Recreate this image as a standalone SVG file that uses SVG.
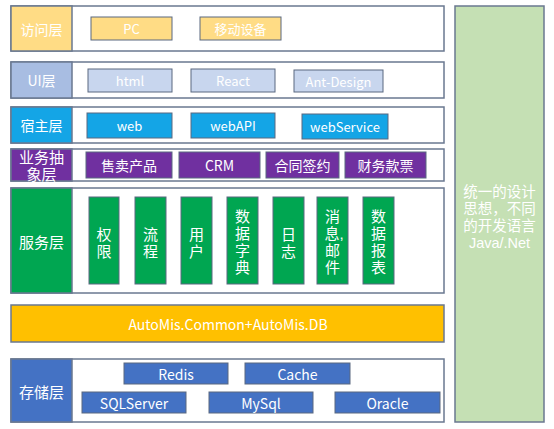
<svg xmlns="http://www.w3.org/2000/svg" width="554" height="429" viewBox="0 0 554 429">
<style>
text{font-family:"Noto Sans CJK SC","Noto Sans",sans-serif;fill:#fff;text-anchor:middle;dominant-baseline:central}
text.ml{font-family:"Liberation Sans","Noto Sans CJK SC",sans-serif}
.outer{fill:#fff;stroke:#6a7890;stroke-width:1.5}
.lbl{stroke:#6a7890;stroke-width:1.5}
.in{stroke:#5a6880;stroke-width:1}
.t14{font-size:14px}
.t13{font-size:13px}
.v{font-size:15px}
.yel{fill:#ffdc85}
.lb{fill:#c8d6ee}
.lbl2{fill:#a8bde2}
.sky{fill:#14a5e6}
.pur{fill:#7030a0}
.grn{fill:#00a651}
.blu{fill:#4472c4}
</style>
<rect width="554" height="429" fill="#fff"/>
<g id="side">
<rect x="455" y="6" width="89" height="416" fill="#c5e0b4" stroke="#6a7890" stroke-width="1.5"/>
<text class="ml" font-size="14.5" y="192"><tspan x="499.5">统一的设计</tspan><tspan x="499.5" dy="17">思想，不同</tspan><tspan x="499.5" dy="17">的开发语言</tspan><tspan x="499.5" dy="16.5">Java/.Net</tspan></text>
</g>
<g id="access">
<rect class="outer" x="11" y="6" width="433" height="45"/>
<rect class="lbl yel" x="11" y="6" width="61" height="45"/>
<text class="t14" x="41.5" y="29">访问层</text>
<rect class="in yel" x="91" y="17" width="81" height="23"/>
<text class="t13" x="131.5" y="28.5">PC</text>
<rect class="in yel" x="200" y="17" width="81" height="23"/>
<text class="t13" x="240.5" y="28.5">移动设备</text>
</g>
<g id="ui">
<rect class="outer" x="11" y="62" width="433" height="36"/>
<rect class="lbl lbl2" x="11" y="62" width="61" height="36"/>
<text class="t14" x="41.5" y="80">UI层</text>
<rect class="in lb" x="88" y="69" width="84" height="23"/>
<text class="t13" x="130" y="80.5">html</text>
<rect class="in lb" x="191" y="69" width="84" height="23"/>
<text class="t13" x="233" y="80.5">React</text>
<rect class="in lb" x="294" y="70" width="89" height="22"/>
<text class="t13" x="338.5" y="81">Ant-Design</text>
</g>
<g id="host">
<rect class="outer" x="11" y="107" width="433" height="36"/>
<rect class="lbl sky" x="11" y="107" width="61" height="36"/>
<text class="t14" x="41.5" y="125">宿主层</text>
<rect class="in sky" x="87" y="113" width="85" height="25"/>
<text class="t13" x="129.5" y="125.5">web</text>
<rect class="in sky" x="191" y="113" width="84" height="25"/>
<text class="t13" x="233" y="125.5">webAPI</text>
<rect class="in sky" x="302" y="114" width="86" height="25"/>
<text class="t13" x="345" y="126.5">webService</text>
</g>
<g id="biz">
<rect class="outer" x="11" y="149" width="433" height="32"/>
<rect class="lbl pur" x="11" y="149" width="61" height="32"/>
<text class="ml" font-size="15" y="157"><tspan x="41.5">业务抽</tspan><tspan x="41.5" dy="17">象层</tspan></text>
<rect class="in pur" x="86" y="152" width="86" height="26"/>
<text x="129" y="165" font-size="14">售卖产品</text>
<rect class="in pur" x="179" y="152" width="81" height="26"/>
<text x="219.5" y="165" font-size="14">CRM</text>
<rect class="in pur" x="266" y="152" width="73" height="26"/>
<text x="302.5" y="165" font-size="14">合同签约</text>
<rect class="in pur" x="345" y="152" width="81" height="26"/>
<text x="385.5" y="165" font-size="14">财务款票</text>
</g>
<g id="service">
<rect class="outer" x="11" y="188" width="433" height="105"/>
<rect class="lbl grn" x="11" y="188" width="61" height="105"/>
<text x="41.5" y="241" font-size="15">服务层</text>
<rect class="in grn" x="89" y="197" width="30" height="87"/>
<text class="v ml" y="234"><tspan x="104">权</tspan><tspan x="104" dy="17">限</tspan></text>
<rect class="in grn" x="135" y="197" width="31" height="87"/>
<text class="v ml" y="234"><tspan x="150.5">流</tspan><tspan x="150.5" dy="17">程</tspan></text>
<rect class="in grn" x="181" y="197" width="31" height="87"/>
<text class="v ml" y="234"><tspan x="196.5">用</tspan><tspan x="196.5" dy="17">户</tspan></text>
<rect class="in grn" x="227" y="197" width="31" height="87"/>
<text class="v ml" y="216"><tspan x="242.5">数</tspan><tspan x="242.5" dy="17">据</tspan><tspan x="242.5" dy="17">字</tspan><tspan x="242.5" dy="17">典</tspan></text>
<rect class="in grn" x="273" y="197" width="31" height="87"/>
<text class="v ml" y="234"><tspan x="288.5">日</tspan><tspan x="288.5" dy="17">志</tspan></text>
<rect class="in grn" x="317" y="197" width="31" height="87"/>
<text class="v ml" y="216"><tspan x="332.5">消</tspan><tspan x="334" dy="17">息,</tspan><tspan x="332.5" dy="17">邮</tspan><tspan x="332.5" dy="17">件</tspan></text>
<rect class="in grn" x="363" y="197" width="31" height="87"/>
<text class="v ml" y="216"><tspan x="378.5">数</tspan><tspan x="378.5" dy="17">据</tspan><tspan x="378.5" dy="17">报</tspan><tspan x="378.5" dy="17">表</tspan></text>
</g>
<g id="common">
<rect x="11" y="305" width="433" height="37" fill="#ffc000" stroke="#6a7890" stroke-width="1.5"/>
<text x="228" y="324" font-size="14">AutoMis.Common+AutoMis.DB</text>
</g>
<g id="storage">
<rect class="outer" x="11" y="359" width="433" height="63"/>
<rect class="lbl blu" x="11" y="359" width="61" height="63"/>
<text x="41.5" y="391" font-size="15">存储层</text>
<rect class="in blu" x="124" y="363" width="104" height="21"/>
<text x="176" y="374" font-size="14">Redis</text>
<rect class="in blu" x="245" y="363" width="105" height="21"/>
<text x="297.5" y="374" font-size="14">Cache</text>
<rect class="in blu" x="82" y="392" width="104" height="21"/>
<text x="134" y="403" font-size="14">SQLServer</text>
<rect class="in blu" x="209" y="392" width="104" height="21"/>
<text x="261" y="403" font-size="14">MySql</text>
<rect class="in blu" x="335" y="392" width="105" height="21"/>
<text x="387.5" y="403" font-size="14">Oracle</text>
</g>
<g id="connectors"/>
</svg>
